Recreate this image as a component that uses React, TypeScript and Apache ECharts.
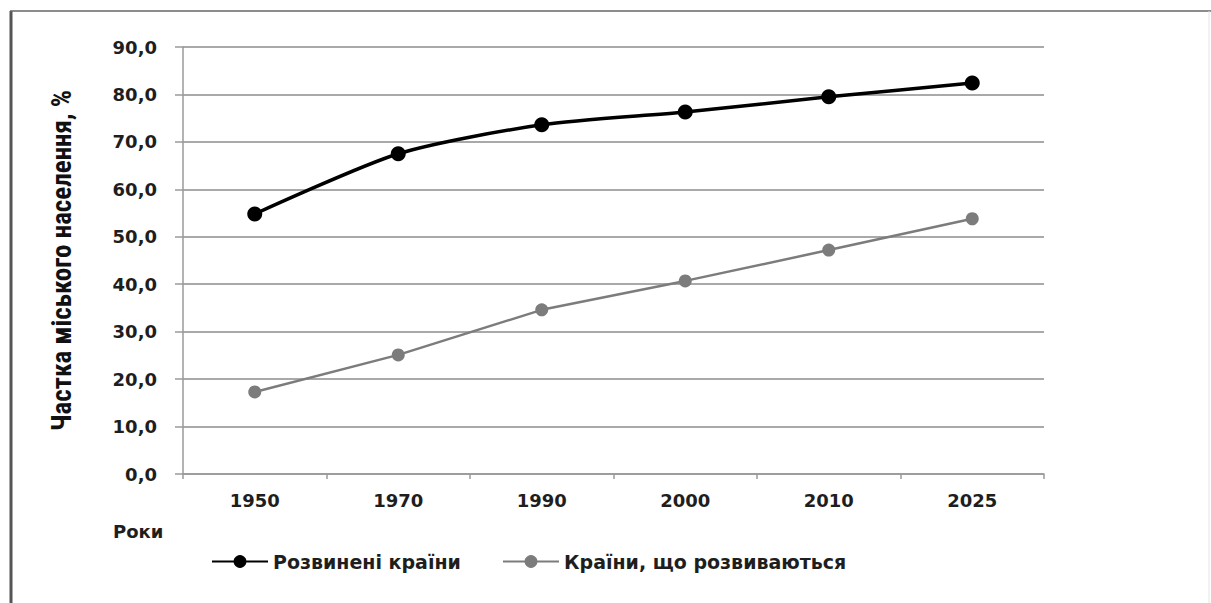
import React, { useEffect, useRef } from "react";
import * as echarts from "echarts";

const years = ["1950", "1970", "1990", "2000", "2010", "2025"];
const developed = [54.8, 67.5, 73.6, 76.3, 79.5, 82.4];
const developing = [17.3, 25.1, 34.6, 40.7, 47.2, 53.8];
const seriesNames = ["Розвинені країни", "Країни, що розвиваються"];
const yAxisTitle = "Частка міського населення, %";
const xAxisTitle = "Роки";

export default function App() {
  const ref = useRef<HTMLDivElement>(null);
  useEffect(() => {
    if (!ref.current) return;
    const chart = echarts.init(ref.current, undefined, { renderer: "svg" });
    const labelFont = { fontFamily: "DejaVu Sans", fontWeight: "bold" as const, fontSize: 18, color: "#1e1e1e" };
    const legendBase = {
      top: 547,
      itemWidth: 56,
      itemHeight: 16,
      textStyle: { fontFamily: "DejaVu Sans", fontWeight: "bold" as const, fontSize: 19, color: "#1e1e1e" },
    };
    chart.setOption({
      animation: false,
      backgroundColor: "#ffffff",
      grid: { left: 183, right: 167, top: 47, bottom: 129, containLabel: false },
      legend: [
        { ...legendBase, left: 206, data: [seriesNames[0]] },
        { ...legendBase, left: 497, data: [seriesNames[1]] },
      ],
      xAxis: {
        type: "category",
        data: years,
        boundaryGap: true,
        axisLine: { lineStyle: { color: "#9a9a9a", width: 1.5 } },
        axisTick: { show: true, length: 5, lineStyle: { color: "#9a9a9a", width: 1.5 } },
        axisLabel: { ...labelFont, margin: 17 },
      },
      yAxis: {
        type: "value",
        min: 0,
        max: 90,
        interval: 10,
        name: yAxisTitle,
        nameLocation: "middle",
        nameRotate: 90,
        nameGap: 108,
        nameTextStyle: {
          fontFamily: "Liberation Sans Narrow, Arial Narrow, Roboto Condensed, Liberation Sans",
          fontWeight: "bold",
          fontSize: 27,
          color: "#111",
        },
        axisLine: { show: true, lineStyle: { color: "#9a9a9a", width: 1.5 } },
        axisTick: { show: true, length: 8, lineStyle: { color: "#9a9a9a", width: 1.5 } },
        splitLine: { lineStyle: { color: "#8c8c8c", width: 1.5 } },
        axisLabel: {
          ...labelFont,
          margin: 26,
          formatter: (v: number) => v.toFixed(1).replace(".", ","),
        },
      },
      series: [
        {
          name: seriesNames[0],
          type: "line",
          data: developed,
          smooth: 0.25,
          symbol: "circle",
          symbolSize: 15,
          itemStyle: { color: "#000000" },
          lineStyle: { color: "#000000", width: 3.5 },
        },
        {
          name: seriesNames[1],
          type: "line",
          data: developing,
          smooth: false,
          symbol: "circle",
          symbolSize: 13,
          itemStyle: { color: "#7c7c7c" },
          lineStyle: { color: "#7c7c7c", width: 2.5 },
        },
      ],
      graphic: [
        { type: "line", shape: { x1: 11, y1: 11, x2: 11, y2: 603 }, style: { stroke: "#555", lineWidth: 3 } },
        { type: "line", shape: { x1: 10, y1: 11, x2: 1211, y2: 11 }, style: { stroke: "#666", lineWidth: 1.5 } },
        { type: "line", shape: { x1: 1209, y1: 11, x2: 1209, y2: 603 }, style: { stroke: "#e4e4e4", lineWidth: 1 } },
        {
          type: "text",
          left: 113,
          top: 522,
          style: { text: xAxisTitle, fontFamily: "DejaVu Sans", fontWeight: "bold", fontSize: 18, fill: "#1e1e1e" },
        },
      ],
    });
    return () => chart.dispose();
  }, []);
  return <div ref={ref} style={{ position: "fixed", left: 0, top: 0, width: 1211, height: 603 }} />;
}
